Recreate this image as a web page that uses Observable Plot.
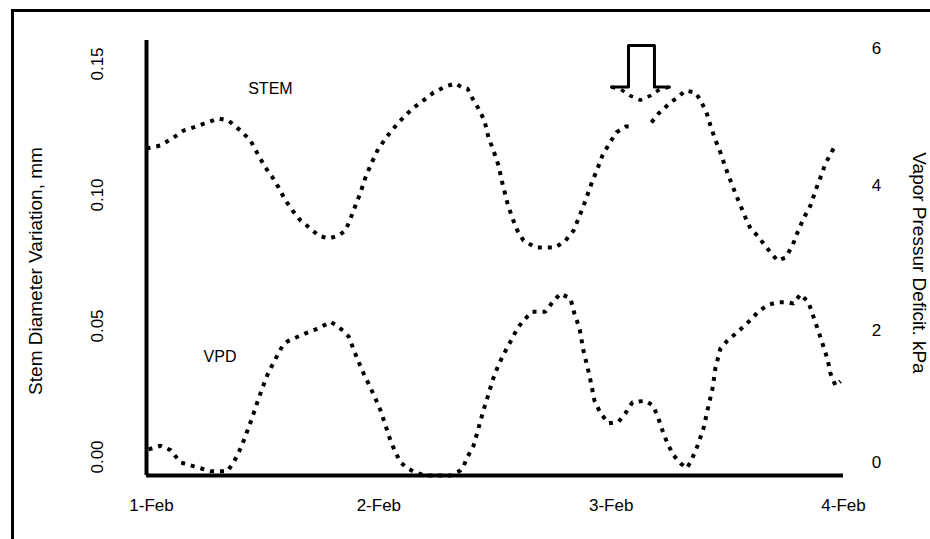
<!DOCTYPE html>
<html>
<head>
<meta charset="utf-8">
<script src="https://cdn.jsdelivr.net/npm/d3@7"></script>
<script src="https://cdn.jsdelivr.net/npm/@observablehq/plot@0.6"></script>
<style>
  html, body { margin: 0; padding: 0; background: #fff; overflow: hidden; }
  #wrap { position: relative; width: 930px; height: 539px; }
  #frame { position: absolute; left: 11px; top: 9px; width: 940px; height: 560px;
           border-top: 3px solid #000; border-left: 3px solid #000; pointer-events: none; }
  svg { display: block; }
</style>
</head>
<body>
<div id="wrap"><div id="frame"></div></div>
<script>
// ---- data (hours since 1-Feb 00:00) ----
const stemHours = [0,1.45,2.79,3.82,4.85,6.30,7.44,8.47,9.71,10.74,11.47,12.29,13.02,13.64,14.36,15.08,15.91,16.94,17.77,18.80,19.83,20.56,21.07,21.59,22.11,22.62,23.14,23.86,24.69,25.51,26.44,27.48,28.61,29.65,30.89,31.92,32.64,33.16,33.67,34.29,34.91,35.33,35.84,36.36,36.77,37.29,37.81,38.32,38.94,40.18,42.25,43.28,44.11,44.83,45.35,45.97,46.59,47.10,47.82,48.55,49.48,50.00,51.0,52.16,52.89,54.13,54.85,55.68,56.71,57.23,57.85,58.26,58.78,59.29,59.81,60.32,60.84,61.36,61.87,62.39,63.11,63.73,64.46,65.18,66.01,66.73,67.25,67.87,68.59,69.11,69.62,70.14,70.86,71.27];
const stemValues = [0.1177,0.1189,0.1219,0.1246,0.1258,0.1277,0.1292,0.1284,0.1246,0.1208,0.1158,0.1105,0.1067,0.1029,0.0979,0.0941,0.0903,0.0872,0.0845,0.0834,0.0845,0.0864,0.0910,0.0960,0.1010,0.1067,0.1113,0.1170,0.1216,0.1254,0.1292,0.1330,0.1361,0.1391,0.1414,0.1426,0.1410,0.1406,0.1368,0.1330,0.1284,0.1219,0.1170,0.1113,0.1044,0.0968,0.0910,0.0864,0.0826,0.0800,0.0800,0.0826,0.0864,0.0929,0.0979,0.1044,0.1101,0.1151,0.1197,0.1239,0.1261,0.1261,null,0.1277,0.1311,0.1353,0.1372,0.1399,0.1391,0.1361,0.1315,0.1265,0.1208,0.1162,0.1105,0.1055,0.1006,0.0960,0.0914,0.0872,0.0845,0.0815,0.0781,0.0750,0.0761,0.0807,0.0857,0.0910,0.0960,0.1017,0.1067,0.1120,0.1170,0.1197];

const vpdHours = [0.21,1.45,2.48,3.51,4.54,5.58,6.61,8.37,8.99,9.40,9.92,10.43,10.95,11.47,11.98,12.50,13.02,13.53,14.05,14.57,15.39,16.42,17.77,19.01,19.73,20.35,20.87,21.28,21.80,22.42,23.14,23.65,24.17,24.69,25.20,25.72,26.24,26.96,27.79,28.82,31.40,32.43,32.74,33.05,33.78,34.29,34.81,35.33,35.74,36.26,36.77,37.29,37.81,38.32,38.94,39.87,41.21,41.94,42.76,43.80,44.21,44.73,45.14,45.76,46.28,46.90,47.72,48.76,49.48,50.20,51.54,52.27,52.78,53.30,53.82,54.44,55.16,55.78,56.19,56.92,57.54,57.95,58.47,58.78,59.29,60.01,60.53,61.15,61.87,62.60,63.11,64.15,65.18,66.21,66.83,67.56,68.38,68.79,69.31,69.83,70.34,70.65,71.17,71.69];
const vpdValues = [0.36,0.41,0.35,0.18,0.14,0.10,0.06,0.06,0.18,0.28,0.44,0.62,0.81,1.02,1.21,1.39,1.53,1.66,1.79,1.85,1.90,1.96,2.03,2.12,2.06,1.99,1.92,1.78,1.60,1.41,1.21,1.06,0.90,0.69,0.48,0.32,0.18,0.10,0.04,0.00,0.00,0.07,0.12,0.23,0.41,0.65,0.90,1.12,1.31,1.49,1.64,1.77,1.90,2.03,2.14,2.26,2.26,2.39,2.51,2.44,2.23,2.03,1.72,1.38,1.03,0.86,0.72,0.74,0.86,1.01,1.03,0.97,0.83,0.62,0.44,0.28,0.17,0.10,0.18,0.41,0.65,0.90,1.20,1.49,1.75,1.86,1.92,1.99,2.08,2.17,2.25,2.35,2.39,2.39,2.37,2.50,2.39,2.23,2.03,1.82,1.61,1.41,1.24,1.30];

// tick labels
const xTickHours = [0, 24, 48, 72];
const xTickLabels = ["1-Feb", "2-Feb", "3-Feb", "4-Feb"];
const leftTicks = [0.00, 0.05, 0.10, 0.15];
const rightTicks = [0, 2, 4, 6];

// arrow annotation (stem units)
const arrowHours = [48.03, 49.79, 49.79, 52.47, 52.47, 54.02];
const arrowValues = [0.1412, 0.1412, 0.1571, 0.1571, 0.1412, 0.1412];
const arrowTipHours = [48.03, 49.0, 50.0, 51.03, 52.0, 53.0, 54.02];
const arrowTipValues = [0.1412, 0.1403, 0.1378, 0.1362, 0.1378, 0.1403, 0.1412];

// series labels
const labelNames = ["STEM", "VPD"];
const labelHours = [12.8, 7.6];
const labelValues = [0.1406, null];      // STEM in mm
const labelVpd = [null, 1.64];           // VPD in kPa

// ---- scales ----
const yMin = -0.00706, yMax = 0.15897;          // left axis (mm)
const vpdMax = 6;                               // right axis (kPa)
const vpdToY = v => yMin + v * (yMax - yMin) / vpdMax;

const stem = stemHours.map((h, i) => ({h, v: stemValues[i]}));
const vpd = vpdHours.map((h, i) => ({h, v: vpdToY(vpdValues[i])}));
const arrow = arrowHours.map((h, i) => ({h, v: arrowValues[i]}));
const arrowTip = arrowTipHours.map((h, i) => ({h, v: arrowTipValues[i]}));
const labels = labelNames.map((n, i) => ({n, h: labelHours[i], v: labelValues[i] != null ? labelValues[i] : vpdToY(labelVpd[i])}));

const font = "'Liberation Sans', Arial, sans-serif";
const fs = 17;
const titleFs = 19;
const dash = {stroke: "#000", strokeWidth: 4, strokeDasharray: "4,6", strokeLinecap: "butt", strokeLinejoin: "miter"};

const xLab = (filter, dx) => Plot.text(xTickHours.map((h, i) => ({h, t: xTickLabels[i]})).filter(filter),
  {x: "h", text: "t", frameAnchor: "bottom", dy: 35, dx, fontSize: fs});

const chart = Plot.plot({
  width: 930,
  height: 539,
  marginLeft: 146,
  marginRight: 87,
  marginTop: 40,
  marginBottom: 64,
  style: {fontFamily: font, fontSize: fs + "px", color: "#000", background: "transparent"},
  x: {domain: [0, 72], axis: null},
  y: {domain: [yMin, yMax], axis: null},
  marks: [
    Plot.line(stem, {x: "h", y: "v", ...dash}),
    Plot.line(vpd, {x: "h", y: "v", ...dash}),
    Plot.ruleX([0], {stroke: "#000", strokeWidth: 4}),
    Plot.ruleY([yMin], {stroke: "#000", strokeWidth: 4}),
    Plot.line(arrow, {x: "h", y: "v", stroke: "#000", strokeWidth: 3}),
    Plot.line(arrowTip, {x: "h", y: "v", ...dash, strokeWidth: 3.5}),
    Plot.text(labels, {x: "h", y: "v", text: "n", fontSize: fs - 1}),
    // x tick labels
    xLab(d => d.h === 0, 5),
    xLab(d => d.h !== 0, 0),
    // left tick labels (rotated)
    Plot.text(leftTicks, {y: d => d, text: d => d.toFixed(2), frameAnchor: "left", textAnchor: "middle", dx: -49, rotate: -90, fontSize: fs}),
    // right tick labels
    Plot.text(rightTicks.filter(d => d > 0 && d < vpdMax), {y: d => vpdToY(d), text: d => String(d), frameAnchor: "right", textAnchor: "middle", dx: 33, fontSize: fs}),
    Plot.text(rightTicks.filter(d => d === 0), {y: d => vpdToY(d), text: d => String(d), frameAnchor: "right", textAnchor: "middle", dx: 33, dy: -13, fontSize: fs}),
    Plot.text(rightTicks.filter(d => d === vpdMax), {y: d => vpdToY(d), text: d => String(d), frameAnchor: "right", textAnchor: "middle", dx: 33, dy: 8, fontSize: fs}),
    // axis titles
    Plot.text(["Stem Diameter Variation, mm"], {frameAnchor: "left", textAnchor: "middle", dx: -111, dy: 13, rotate: -90, fontSize: titleFs}),
    Plot.text(["Vapor Pressur Deficit. kPa"], {frameAnchor: "right", textAnchor: "middle", dx: 76, dy: 5, rotate: 90, fontSize: titleFs})
  ]
});
document.getElementById("wrap").prepend(chart);
</script>
</body>
</html>
